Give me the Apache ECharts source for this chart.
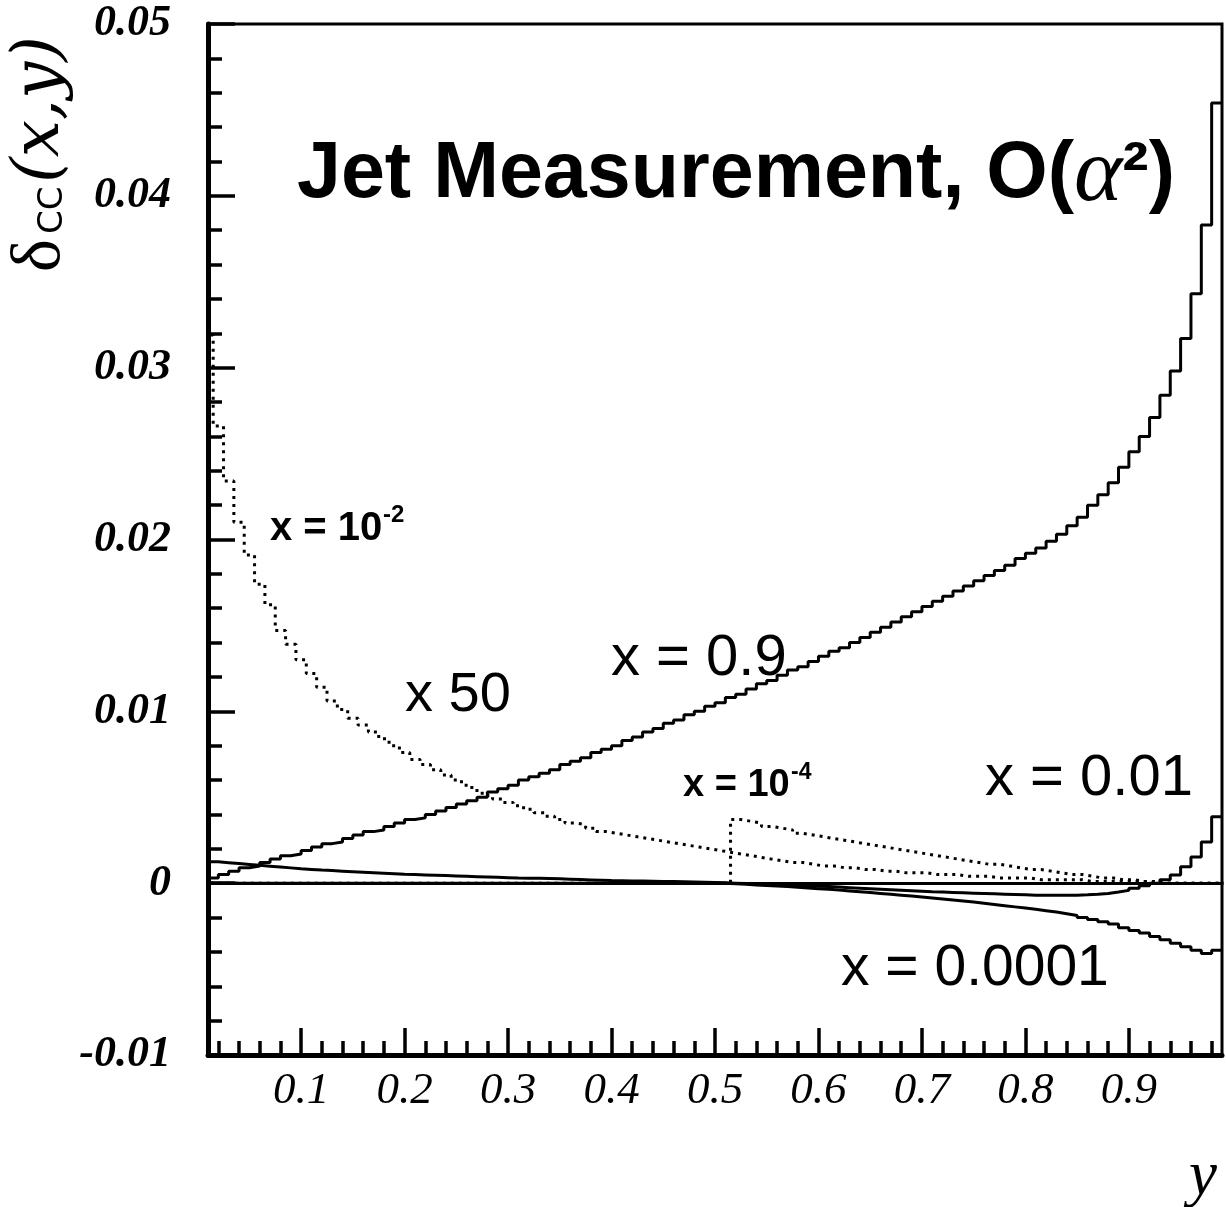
<!DOCTYPE html>
<html><head><meta charset="utf-8">
<script src="https://cdn.jsdelivr.net/npm/echarts@6/dist/echarts.min.js"></script>
<style>html,body{margin:0;padding:0;background:#fff}#c{width:1226px;height:1207px}</style>
</head><body><div id="c"></div>
<script>
// ---------------- data ----------------
// solid histograms: bins of width 0.01 starting at y = 0.01
const SOLID_FIRST_EDGE = 0.01;
// dotted (x50) histograms: bins of width 0.01 starting at y = 0.005
const DOTTED_FIRST_EDGE = 0.005;
const BIN_WIDTH = 0.01;

// x = 0.9 (solid)
const x09 = [
 0.0003,0.0005,0.0007,0.0009,0.0010,0.0012,0.0014,0.0016,0.0017,0.0019,
 0.0021,0.0023,0.0024,0.0026,0.0028,0.0030,0.0031,0.0033,0.0035,0.0037,
 0.0038,0.0040,0.0042,0.0044,0.0046,0.0048,0.0050,0.0053,0.0055,0.0057,
 0.0060,0.0062,0.0064,0.0066,0.0069,0.0071,0.0073,0.0076,0.0078,0.0080,
 0.0083,0.0085,0.0088,0.0090,0.0093,0.0095,0.0098,0.0100,0.0103,0.0105,
 0.0108,0.0110,0.0113,0.0116,0.0118,0.0121,0.0124,0.0126,0.0129,0.0132,
 0.0135,0.0137,0.0140,0.0143,0.0146,0.0149,0.0152,0.0155,0.0158,0.0161,
 0.0164,0.0167,0.0170,0.0173,0.0176,0.0179,0.0182,0.0185,0.0189,0.0192,
 0.0195,0.0199,0.0203,0.0208,0.0213,0.0220,0.0226,0.0233,0.0242,0.0251,
 0.0260,0.0271,0.0284,0.0298,0.0317,0.0343,0.0383,0.0454
];
// x = 0.01 (solid)
const x001 = [
 0.00124,0.00119,0.00114,0.00109,0.00104,0.00099,0.00094,0.00089,0.00084,0.00080,
 0.00076,0.00073,0.00070,0.00067,0.00064,0.00061,0.00058,0.00055,0.00052,0.00050,
 0.00048,0.00046,0.00044,0.00042,0.00040,0.00038,0.00036,0.00034,0.00032,0.00030,
 0.00029,0.00028,0.00027,0.00025,0.00023,0.00021,0.00019,0.00017,0.00015,0.00014,
 0.00013,0.00012,0.00011,0.00010,0.00009,0.00008,0.00007,0.00006,0.00004,0.00002,
 0.00000,-0.00002,-0.00004,-0.00006,-0.00008,-0.00010,-0.00012,-0.00015,-0.00018,-0.00020,
 -0.00023,-0.00026,-0.00029,-0.00032,-0.00035,-0.00038,-0.00041,-0.00044,-0.00047,-0.00050,
 -0.00052,-0.00054,-0.00056,-0.00058,-0.00060,-0.00062,-0.00064,-0.00066,-0.00068,-0.00070,
 -0.00070,-0.00070,-0.00070,-0.00070,-0.00068,-0.00065,-0.00060,-0.00052,-0.00042,-0.00030,
 -0.00015,0.00000,0.00020,0.00047,0.00095,0.00153,0.00240,0.00386
];
// x = 0.0001 (solid)
const x00001 = [
 0,0,0,0,0,0,0,0,0,0,
 0,0,0,0,0,0,0,0,0,0,
 0,0,0,0,0,0,0,0,0,0,
 0,0,0,0,0,0,0,0,0,0,
 0,0,0,0,0,0,0,0,0,0,
 -0.00003,-0.00006,-0.00010,-0.00013,-0.00017,-0.00020,-0.00024,-0.00028,-0.00032,-0.00036,
 -0.00040,-0.00045,-0.00050,-0.00055,-0.00060,-0.00065,-0.00070,-0.00075,-0.00080,-0.00086,
 -0.00092,-0.00098,-0.00104,-0.00110,-0.00117,-0.00124,-0.00131,-0.00138,-0.00145,-0.00152,
 -0.00160,-0.00168,-0.00178,-0.00188,-0.00200,-0.00212,-0.00225,-0.00238,-0.00260,-0.00275,
 -0.00290,-0.00310,-0.00330,-0.00350,-0.00370,-0.00390,-0.00410,-0.00390
];
// x = 10^-2, scaled x 50 (dotted)
const x1em2x50 = [
 0.0319,0.0266,0.0234,0.0210,0.0191,0.0174,0.0162,0.0147,0.0139,0.0130,
 0.0122,0.0114,0.0106,0.0101,0.0096,0.0092,0.0088,0.0084,0.0080,0.0076,
 0.0072,0.0069,0.0066,0.0063,0.0060,0.0057,0.0054,0.0051,0.0049,0.0047,
 0.0045,0.0043,0.0041,0.0039,0.0037,0.0035,0.0034,0.0032,0.0030,0.0029,
 0.0028,0.0027,0.0026,0.0025,0.0024,0.0023,0.0022,0.0021,0.0020,0.0019,
 0.0018,0.0017,0.0016,0.0015,0.0014,0.0013,0.0012,0.0012,0.0011,0.0010,
 0.0010,0.0009,0.0009,0.0008,0.0008,0.0007,0.0007,0.0006,0.0006,0.0006,
 0.0005,0.0005,0.0005,0.0004,0.0004,0.0004,0.0003,0.0003,0.0003,0.0003,
 0.0002,0.0002,0.0002,0.0002,0.0002,0.0001,0.0001,0.0001,0.0001,0.0001,
 0.0001,0,0,0,0,0,0,0,0
];
// x = 10^-4, scaled x 50 (dotted)
const x1em4x50 = [
 0,0,0,0,0,0,0,0,0,0,
 0,0,0,0,0,0,0,0,0,0,
 0,0,0,0,0,0,0,0,0,0,
 0,0,0,0,0,0,0,0,0,0,
 0,0,0,0,0,0,0,0,0,0,
 0,0.0037,0.0036,0.0035,0.0033,0.0032,0.0031,0.0029,0.0028,0.0027,
 0.0026,0.0025,0.0024,0.0023,0.0022,0.0021,0.0020,0.0019,0.0018,0.0017,
 0.0016,0.0015,0.0014,0.0013,0.0012,0.0011,0.0011,0.0010,0.0009,0.0008,
 0.0008,0.0007,0.0006,0.0005,0.0005,0.0004,0.0003,0.0003,0.0002,0.0002,
 0.0001,0.0001,0,0,0,0,0,0,0
];

const xMajorTicks = [0.1,0.2,0.3,0.4,0.5,0.6,0.7,0.8,0.9];
const xTickLabels = ['0.1','0.2','0.3','0.4','0.5','0.6','0.7','0.8','0.9'];
const yTickLabels = ['-0.01','0','0.01','0.02','0.03','0.04','0.05'];
const X_MIN = 0.01, X_MAX = 0.99, Y_MIN = -0.01, Y_MAX = 0.05;

// ---------------- helpers ----------------
function histo(firstEdge, vals) {
  const pts = [];
  for (let i = 0; i < vals.length; i++) pts.push([+(firstEdge + i * BIN_WIDTH).toFixed(4), vals[i]]);
  pts.push([+(firstEdge + vals.length * BIN_WIDTH).toFixed(4), vals[vals.length - 1]]);
  return pts;
}
const xMinorTicks = [];
for (let k = 1; k < 50; k++) { if (k % 5 !== 0) xMinorTicks.push(+(k * 0.02).toFixed(2)); }

const chart = echarts.init(document.getElementById('c'), null, {renderer: 'canvas'});
const solid = {color: '#000', width: 3};
const dotted = {color: '#000', width: 3, type: [3, 5], cap: 'butt'};
function lineSeries(data, style, extra) {
  return Object.assign({type: 'line', step: 'end', symbol: 'none', clip: true, silent: true,
    lineStyle: style, data: data, animation: false}, extra || {});
}
const serif = "'Liberation Serif', 'Times New Roman', serif";
const sans = "'Liberation Sans', Arial, sans-serif";

function txt(x, yBase, text, size, opts) {
  opts = opts || {};
  const off = (opts.mid || 0.31) * size;
  return {type: 'text', x: x, y: yBase - off, silent: true, z: 100,
    style: {text: text, fill: '#000', fontSize: size, fontFamily: opts.family || sans,
      fontWeight: opts.weight || 'normal', fontStyle: opts.style || 'normal',
      align: 'left', verticalAlign: 'middle', textAlign: 'left', textVerticalAlign: 'middle', rich: opts.rich}};
}
function rtxt(xBase, yStart, text, size, family, style, mid) {
  const off = (mid || 0.31) * size;
  return {type: 'text', x: xBase - off, y: yStart, rotation: Math.PI / 2, silent: true, z: 100,
    style: {text: text, fill: '#000', fontSize: size, fontFamily: family, fontStyle: style || 'normal',
      align: 'left', verticalAlign: 'middle', textAlign: 'left', textVerticalAlign: 'middle'}};
}

const option = {
  backgroundColor: '#fff',
  animation: false,
  grid: {left: 208, right: 4, top: 24, bottom: 152, show: true, borderColor: '#000', borderWidth: 3, backgroundColor: 'rgba(0,0,0,0)'},
  xAxis: [
    {type: 'value', min: X_MIN, max: X_MAX, position: 'bottom',
     axisLine: {show: true, onZero: false, lineStyle: {color: '#000', width: 5}},
     axisTick: {show: true, inside: true, length: 27, customValues: xMajorTicks, lineStyle: {color: '#000', width: 3.5}},
     axisLabel: {show: true, customValues: xMajorTicks, margin: 14, color: '#000', fontFamily: serif, fontStyle: 'italic', fontSize: 45,
       formatter: function (v) { const i = xMajorTicks.findIndex(t => Math.abs(t - v) < 1e-6); return i >= 0 ? xTickLabels[i] : ''; }},
     splitLine: {show: false}},
    {type: 'value', min: X_MIN, max: X_MAX, position: 'bottom',
     axisLine: {show: false, onZero: false},
     axisTick: {show: true, inside: true, length: 14, customValues: xMinorTicks, lineStyle: {color: '#000', width: 3.5}},
     axisLabel: {show: false}, splitLine: {show: false}}
  ],
  yAxis: {type: 'value', min: Y_MIN, max: Y_MAX, interval: 0.01,
    axisLine: {show: true, onZero: false, lineStyle: {color: '#000', width: 5}},
    axisTick: {show: true, inside: true, length: 27, lineStyle: {color: '#000', width: 3.5}},
    minorTick: {show: true, splitNumber: 5, length: 14, lineStyle: {color: '#000', width: 3.5}},
    axisLabel: {show: true, margin: 37, color: '#000', fontFamily: serif, fontStyle: 'italic', fontWeight: 'bold', fontSize: 44,
      formatter: function (v) { const i = Math.round((v - Y_MIN) / 0.01); return yTickLabels[i] || ''; }},
    splitLine: {show: false}, minorSplitLine: {show: false}},
  series: [
    lineSeries(histo(SOLID_FIRST_EDGE, x00001), solid, {markLine: {silent: true, symbol: 'none', label: {show: false},
      lineStyle: {color: '#000', width: 3, type: 'solid'}, data: [{yAxis: 0}], animation: false}}),
    lineSeries(histo(SOLID_FIRST_EDGE, x001), solid),
    lineSeries(histo(SOLID_FIRST_EDGE, x09), solid),
    lineSeries(histo(DOTTED_FIRST_EDGE, x1em2x50), dotted),
    lineSeries(histo(DOTTED_FIRST_EDGE, x1em4x50), dotted)
  ],
  graphic: {elements: [
    // title
    txt(297, 200, '{t|Jet Measurement, O(}{a|\u03b1}{t|\u00b2)}', 79, {rich: {
      t: {fontFamily: sans, fontWeight: 'bold', fontSize: 79},
      a: {fontFamily: serif, fontStyle: 'italic', fontSize: 92}}}),
    // annotations
    txt(270, 541, 'x = 10', 40, {weight: 'bold'}),
    txt(383, 523, '-2', 24, {weight: 'bold'}),
    txt(405, 713, 'x 50', 56),
    txt(611, 677, 'x = 0.9', 58),
    txt(683, 797, 'x = 10', 38, {weight: 'bold'}),
    txt(791, 780, '-4', 23, {weight: 'bold'}),
    txt(985, 797, 'x = 0.01', 58),
    txt(841, 987, 'x = 0.0001', 57),
    // axis titles
    rtxt(62, 272, '\u03b4', 70, serif),
    rtxt(63, 234, 'CC', 34, "'DejaVu Sans', sans-serif", 'normal', 0.3),
    rtxt(61, 183, '(x,y)', 66, "'DejaVu Serif', serif", 'italic', 0.3),
    txt(1189, 1197, 'y', 63, {family: serif, style: 'italic'})
  ]}
};
chart.setOption(option);
</script></body></html>
